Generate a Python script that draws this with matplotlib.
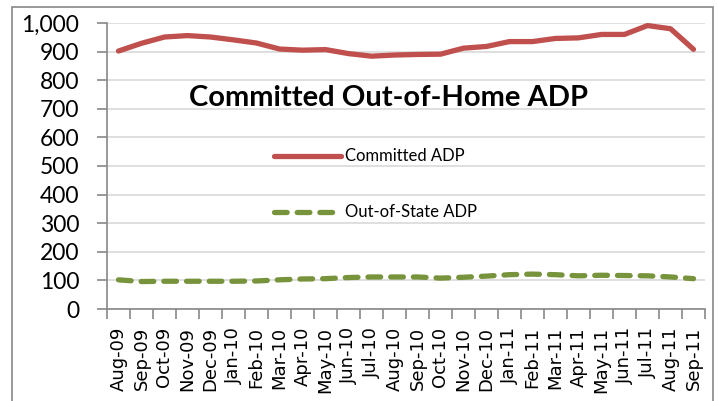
import matplotlib.pyplot as plt
from matplotlib.patches import Rectangle

months = ['Aug-09', 'Sep-09', 'Oct-09', 'Nov-09', 'Dec-09', 'Jan-10', 'Feb-10',
          'Mar-10', 'Apr-10', 'May-10', 'Jun-10', 'Jul-10', 'Aug-10', 'Sep-10',
          'Oct-10', 'Nov-10', 'Dec-10', 'Jan-11', 'Feb-11', 'Mar-11', 'Apr-11',
          'May-11', 'Jun-11', 'Jul-11', 'Aug-11', 'Sep-11']
committed = [902, 929, 951, 956, 951, 941, 930, 909, 905, 907, 893, 884, 888,
             890, 891, 912, 918, 935, 935, 946, 948, 960, 960, 991, 980, 908]
out_of_state = [102, 96, 97, 97, 97, 97, 98, 102, 105, 106, 110, 112, 112, 112,
                108, 111, 115, 120, 122, 120, 116, 118, 117, 116, 112, 106]

plt.rcParams['font.family'] = ['Lato', 'DejaVu Sans']

W, H = 718, 401
fig = plt.figure(figsize=(W / 100, H / 100), dpi=100)
fig.patches.append(Rectangle((12 / W, -0.1), 701 / W, 1.1 - 7 / H,
                             transform=fig.transFigure, fill=False,
                             edgecolor='#888888', linewidth=1.2))

ax = fig.add_axes([107 / W, 1 - 309 / H, 598 / W, 286 / H])
x = list(range(len(months)))
ax.plot(x, committed, color='#C0504D', linewidth=3.8, solid_capstyle='round',
        label='Committed ADP')
ax.plot(x, out_of_state, color='#77933C', linewidth=3.8, dashes=(2.4, 1.9),
        dash_capstyle='round', label='Out-of-State ADP')

ax.set_xlim(-0.5, len(months) - 0.5)
ax.set_ylim(0, 1000)
ax.set_yticks(range(0, 1001, 100))
ax.set_yticklabels(['{:,}'.format(v) for v in range(0, 1001, 100)], fontsize=16.5)
ax.yaxis.grid(True, color='#D9D9D9', linewidth=1.2)
ax.set_axisbelow(True)

ax.set_xticks(x)
ax.set_xticklabels(months, rotation=90, fontsize=13, family='DejaVu Sans')
ax.set_xticks([i - 0.5 for i in range(len(months) + 1)], minor=True)
ax.tick_params(axis='x', which='major', length=0, pad=13)
ax.tick_params(axis='x', which='minor', length=7, color='#888888', width=1.2)
ax.tick_params(axis='y', length=7, color='#888888', width=1.2, pad=13)

for side in ['top', 'right']:
    ax.spines[side].set_visible(False)
for side in ['left', 'bottom']:
    ax.spines[side].set_color('#888888')
    ax.spines[side].set_linewidth(1.2)

ax.text(0.47, 0.738, 'Committed Out-of-Home ADP', transform=ax.transAxes,
        ha='center', va='center', fontsize=21, fontweight='bold')

ax.legend(loc='upper left', bbox_to_anchor=(0.268, 0.585), frameon=False,
          fontsize=12, handlelength=4.0, handletextpad=0.25, labelspacing=2.4,
          borderaxespad=0)

fig.savefig('out.png', dpi=100)
